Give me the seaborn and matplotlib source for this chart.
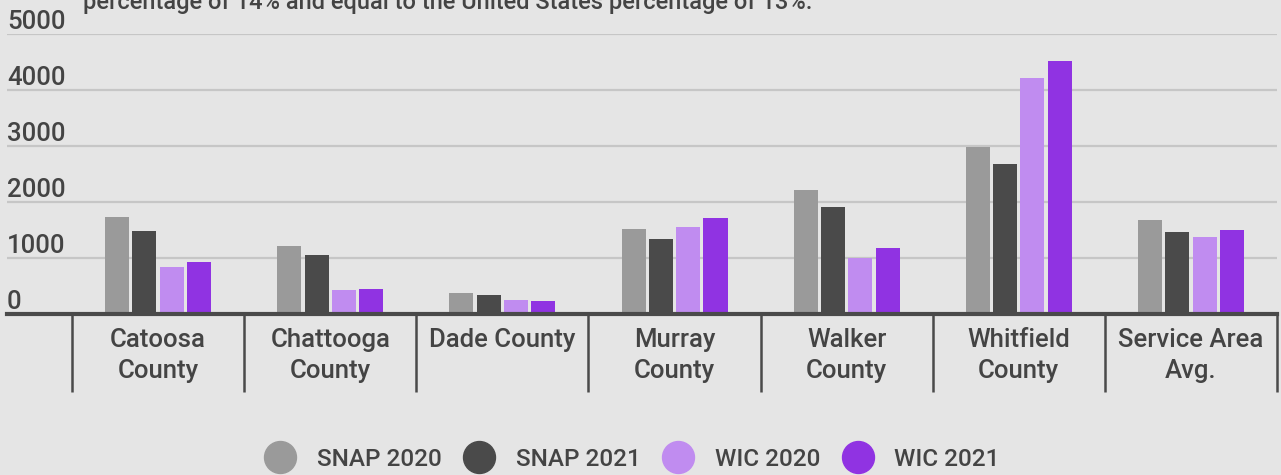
import numpy as np
import pandas as pd
import seaborn as sns
import matplotlib.pyplot as plt
from matplotlib.lines import Line2D

# data
counties = ["Catoosa\nCounty", "Chattooga\nCounty", "Dade County", "Murray\nCounty",
            "Walker\nCounty", "Whitfield\nCounty", "Service Area\nAvg."]
series = ["SNAP 2020", "SNAP 2021", "WIC 2020", "WIC 2021"]
snap_2020 = [1732, 1214, 375, 1518, 2214, 2982, 1679]
snap_2021 = [1482, 1054, 339, 1339, 1911, 2679, 1464]
wic_2020 = [839, 429, 250, 1554, 1000, 4214, 1375]
wic_2021 = [929, 446, 232, 1714, 1179, 4518, 1500]
y_ticks = [0, 1000, 2000, 3000, 4000, 5000]
colors = ["#9a9a9a", "#4a4a4a", "#c08cf0", "#9033e2"]

df = pd.DataFrame({
    "county": counties * 4,
    "series": np.repeat(series, len(counties)),
    "value": snap_2020 + snap_2021 + wic_2020 + wic_2021,
})

sns.set_theme(style="white")
plt.rcParams["font.family"] = ["Roboto", "DejaVu Sans"]
plt.rcParams["font.weight"] = "medium"
bg = "#e5e5e5"
text_col = "#444444"

W, H = 1281, 475
fig = plt.figure(figsize=(W / 100, H / 100), dpi=100, facecolor=bg)
ax = fig.add_axes([7 / W, 1 - 314 / H, (1277 - 7) / W, (314 - 34) / H])
ax.set_facecolor(bg)

sns.barplot(data=df, x="county", y="value", hue="series", palette=colors,
            width=0.635, gap=0.12, saturation=1, linewidth=0, legend=False,
            ax=ax, zorder=3)

ax.set_xlim(-0.5 - 65 / 172, len(counties) - 0.5)
ax.set_ylim(0, 5000)
ax.set_xlabel("")
ax.set_ylabel("")

# horizontal gridlines
ax.set_yticks(y_ticks)
ax.set_yticklabels([])
ax.tick_params(axis="y", length=0)
ax.yaxis.grid(True, color="#c6c6c6", linewidth=1.6, zorder=0)
ax.set_axisbelow(True)
for v in y_ticks:
    ax.text(0, v, str(v), transform=ax.get_yaxis_transform(), ha="left",
            va="bottom", fontsize=18.5, color=text_col, fontweight="medium")

# category labels and separators
ax.set_xticks(range(len(counties)))
ax.set_xticklabels(counties, fontsize=18.5, color=text_col, linespacing=1.35,
                   va="top", fontweight="medium")
ax.tick_params(axis="x", which="major", bottom=True, length=0, pad=10)
ax.set_xticks(np.arange(-0.5, len(counties)), minor=True)
ax.tick_params(axis="x", which="minor", bottom=True, length=56, width=1.8,
               color="#4a4a4a", direction="out")

for s in ["top", "right", "left"]:
    ax.spines[s].set_visible(False)
ax.spines["bottom"].set_color("#4a4a4a")
ax.spines["bottom"].set_linewidth(3)
ax.spines["bottom"].set_zorder(5)

# subtitle, cut off at the top like in the source
fig.text(83 / W, 1 - 9.5 / H,
         "percentage of 14% and equal to the United States percentage of 13%.",
         fontsize=17, fontweight="medium", color=text_col, ha="left",
         va="baseline")

handles = [Line2D([], [], linestyle="none", marker="o", markersize=23,
                  markerfacecolor=c, markeredgecolor=c) for c in colors]
leg = fig.legend(handles, series, loc="center",
                 bbox_to_anchor=(632 / W, 1 - 459 / H), ncol=4, frameon=False,
                 fontsize=17.5, labelcolor=text_col, handlelength=1.3,
                 handletextpad=0.85, columnspacing=0.9, borderpad=0,
                 borderaxespad=0)
for t in leg.get_texts():
    t.set_fontweight("medium")

fig.savefig("out.png", dpi=100, facecolor=bg)
